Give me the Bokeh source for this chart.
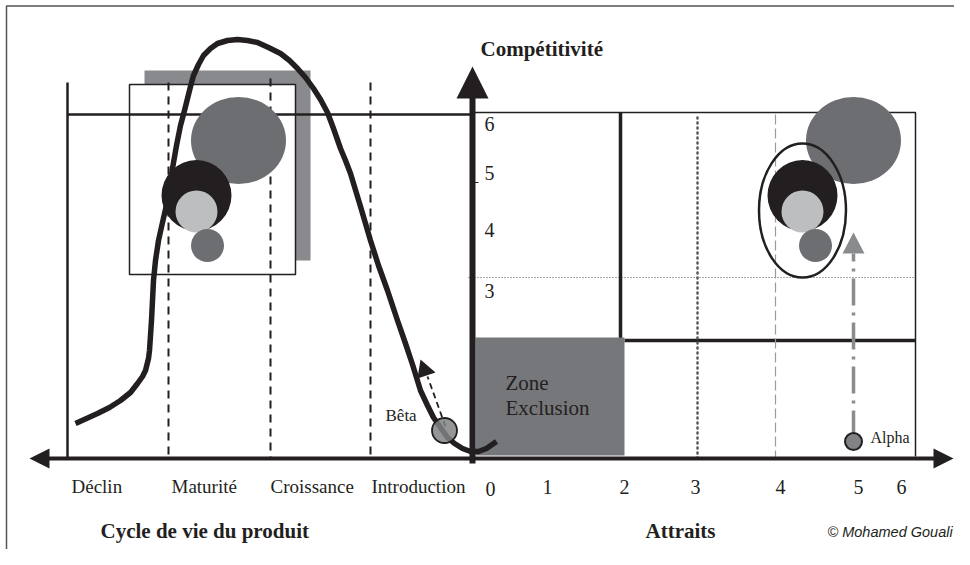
from bokeh.plotting import figure
from bokeh.embed import file_html
from bokeh.resources import INLINE
from bokeh.core.properties import value

# ---------------- data (diagram coordinates, y grows downward) ----------------
# product life-cycle curve
curve_x = [75, 86, 97, 109, 120, 130, 137, 142, 145, 148, 149, 150, 151, 152, 153, 155, 158, 162, 167, 172,
           176, 180, 184, 187, 190, 193, 198, 203, 210, 217, 227, 237, 247, 257, 268, 280, 289, 297, 305, 313,
           320, 327, 333, 340, 345, 350, 360, 370, 378, 387, 397, 405, 412, 420, 427, 433, 440, 447, 454, 462,
           470, 478, 486, 496]
curve_y = [423, 418, 413, 407, 400, 392, 383, 376, 370, 358, 350, 335, 320, 300, 280, 260, 240, 222, 200, 168,
           145, 125, 110, 98, 86, 75, 64, 55, 48, 43, 40, 39, 40, 42, 47, 53, 60, 68, 77, 88,
           99, 112, 128, 148, 160, 173, 206, 240, 265, 290, 320, 343, 364, 390, 405, 417, 427, 437, 443, 448,
           451, 451, 448, 441]

# life-cycle stages
stage_labels = ["Déclin", "Maturité", "Croissance", "Introduction"]
stage_label_x = [71, 171, 270, 371]
stage_line_x = [168, 270, 370]
stage_line_top = [82, 78, 82]

# attraits / compétitivité ticks
attrait_labels = ["0", "1", "2", "3", "4", "5", "6"]
attrait_label_x = [490, 547, 624, 695, 780, 858, 901]
attrait_label_y = [488, 486, 486, 486, 486, 486, 486]
compet_labels = ["6", "5", "4", "3"]
compet_label_y = [123, 172, 229, 290]

# portfolio bubbles (left copy and right copy)
bub_colors = ["#6d6e71", "#231f20", "#bcbec0", "#6d6e71"]
bub_w = [95, 70, 42, 33]
bub_h = [87, 71, 42, 33]
bub_left_x = [238, 196, 196, 207]
bub_left_y = [140, 195, 211, 245]
bub_right_x = [853, 802, 802, 815]
bub_right_y = [140, 195, 211, 245]

# ---------------- figure ----------------
W, H = 954, 549
p = figure(width=W, height=H, x_range=(0, W), y_range=(H, 0),
           output_backend="svg", toolbar_location=None, min_border=0)
p.axis.visible = False
p.grid.visible = False
p.outline_line_color = None
p.background_fill_color = "white"

BLACK = "#231f20"
SERIF = value("Liberation Serif")

# outer frame
p.line([970, 6, 6], [5.5, 5.5, 565], line_color="#555555", line_width=1.5)

# left block: shadow + square
p.quad(left=[144], right=[310], top=[70], bottom=[260], fill_color="#898a8d", line_color=None)
p.quad(left=[129], right=[295], top=[84], bottom=[274], fill_color="white", line_color=BLACK, line_width=1.5)

# left top line & left vertical
p.line([67, 472], [114, 114], line_color=BLACK, line_width=2.5)
p.line([67, 67], [82, 458], line_color=BLACK, line_width=2.5)
# stage dashed lines
for sx, st in zip(stage_line_x, stage_line_top):
    p.line([sx, sx], [st, 458], line_color=BLACK, line_width=2, line_dash="8 6")

# right grid
p.line([472, 915, 915], [112, 112, 456], line_color=BLACK, line_width=1.5)
p.line([468, 915], [277, 277], line_color="#58595b", line_width=1, line_dash="1 2")
p.line([620, 620], [112, 338], line_color=BLACK, line_width=3.5)
p.line([624, 915], [340, 340], line_color=BLACK, line_width=3.5)
p.line([697, 697], [117, 458], line_color="#58595b", line_width=2.5, line_dash="1 4", line_cap="round")
p.line([775, 775], [114, 458], line_color="#9a9b9d", line_width=1.2, line_dash="10 4")

# zone exclusion
p.quad(left=[475], right=[624], top=[337], bottom=[455], fill_color="#76777a", line_color=None)

# bubbles
p.ellipse(x=bub_left_x, y=bub_left_y, width=bub_w, height=bub_h, fill_color=bub_colors, line_color=None)
p.ellipse(x=bub_right_x, y=bub_right_y, width=bub_w, height=bub_h, fill_color=bub_colors, line_color=None)
p.ellipse(x=[802], y=[210], width=[87], height=[134], fill_color=None, line_color=BLACK, line_width=2.5)

# alpha arrow
p.line([853, 853], [437, 253], line_color="#8a8b8d", line_width=3.5, line_dash="27 7 3 7")
p.patches(xs=[[842, 864, 853]], ys=[[253, 253, 232]], fill_color="#8a8b8d", line_color=None)
p.ellipse(x=[853], y=[441], width=[17], height=[17], fill_color="#808285", line_color=BLACK, line_width=2)

# beta arrow
p.line([445, 427], [426, 376], line_color=BLACK, line_width=1.8, line_dash="6 4")
p.patches(xs=[[417, 435, 420]], ys=[[378, 372, 359]], fill_color=BLACK, line_color=None)

# curve
p.line(curve_x, curve_y, line_color=BLACK, line_width=5.5, line_join="round", line_cap="butt")

p.ellipse(x=[444], y=[430], width=[25], height=[25], fill_color="#808285", fill_alpha=0.85, line_color=BLACK, line_width=1.8)

# axes
p.line([45, 937], [458, 458], line_color=BLACK, line_width=4)
p.patches(xs=[[29, 49, 49], [953, 933, 933]], ys=[[458, 448, 468], [458, 448, 468]], fill_color=BLACK, line_color=None)
p.line([472, 472], [463, 96], line_color=BLACK, line_width=6)
p.patches(xs=[[456, 488, 472]], ys=[[98, 98, 66]], fill_color=BLACK, line_color=None)
p.line([472, 478], [182, 182], line_color=BLACK, line_width=1)

# texts
p.text(x=stage_label_x, y=[486] * 4, text=stage_labels, text_font=SERIF, text_font_size="19px",
       text_color=BLACK, text_baseline="middle", text_align="left")
p.text(x=attrait_label_x, y=attrait_label_y, text=attrait_labels, text_font=SERIF, text_font_size="20px",
       text_color=BLACK, text_baseline="middle", text_align="center")
p.text(x=[484] * 4, y=compet_label_y, text=compet_labels, text_font=SERIF, text_font_size="20px",
       text_color=BLACK, text_baseline="middle", text_align="left")
p.text(x=[480], y=[48], text=["Compétitivité"], text_font=SERIF, text_font_size="21px", text_font_style="bold",
       text_color=BLACK, text_baseline="middle", text_align="left")
p.text(x=[100], y=[530], text=["Cycle de vie du produit"], text_font=SERIF, text_font_size="21px",
       text_font_style="bold", text_color=BLACK, text_baseline="middle", text_align="left")
p.text(x=[645], y=[530], text=["Attraits"], text_font=SERIF, text_font_size="21px",
       text_font_style="bold", text_color=BLACK, text_baseline="middle", text_align="left")
p.text(x=[827], y=[531], text=["© Mohamed Gouali"], text_font=value("Liberation Sans"), text_font_size="14.5px",
       text_font_style="italic", text_color=BLACK, text_baseline="middle", text_align="left")
p.text(x=[505, 505], y=[382, 407], text=["Zone", "Exclusion"], text_font=SERIF, text_font_size="21px",
       text_color=BLACK, text_baseline="middle", text_align="left")
p.text(x=[385], y=[415], text=["Bêta"], text_font=SERIF, text_font_size="17px",
       text_color=BLACK, text_baseline="middle", text_align="left")
p.text(x=[870], y=[437], text=["Alpha"], text_font=SERIF, text_font_size="16px",
       text_color=BLACK, text_baseline="middle", text_align="left")

open("out.html", "w").write(file_html(p, INLINE))
